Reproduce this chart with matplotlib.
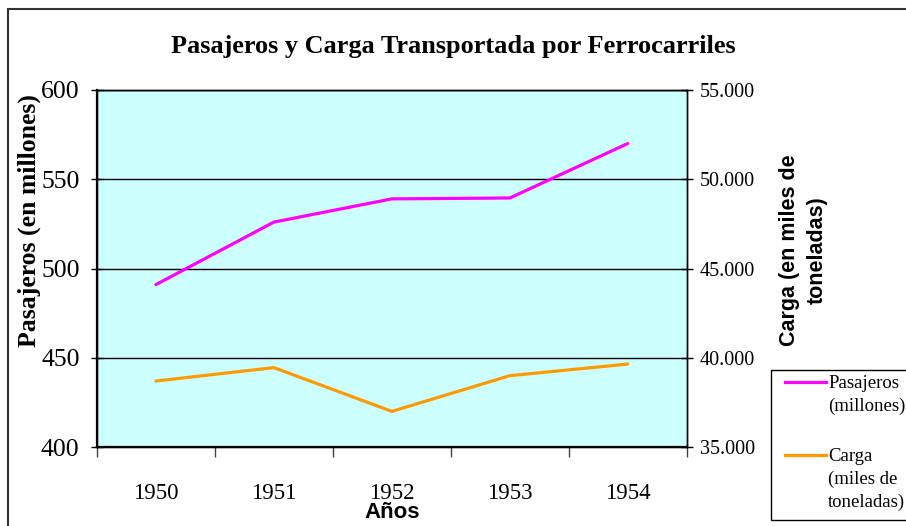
import matplotlib
matplotlib.use("Agg")
import matplotlib.pyplot as plt
from matplotlib.ticker import FuncFormatter, FixedLocator
from matplotlib.patches import Rectangle
from matplotlib.lines import Line2D

years = ["1950", "1951", "1952", "1953", "1954"]
pasajeros = [491, 526, 539, 539.5, 570]          # millones
carga = [38700, 39450, 37000, 39000, 39650]      # miles de toneladas

left_ticks = [400, 450, 500, 550, 600]
right_ticks = [35000, 40000, 45000, 50000, 55000]

serif = "Liberation Serif"
sans = "Liberation Sans"

fig = plt.figure(figsize=(9.06, 5.26), dpi=100)
fig.patch.set_facecolor("white")

# outer chart border
fig.add_artist(Rectangle((0.009, -0.1), 1.1, 1.083, transform=fig.transFigure,
                         fill=False, edgecolor="#333333", linewidth=1.5))

ax = fig.add_axes([0.107, 0.150, 0.651, 0.679])
ax.set_facecolor("#CCFFFF")
ax2 = ax.twinx()

x = list(range(len(years)))
l1, = ax.plot(x, pasajeros, color="#FF00FF", linewidth=2.3, solid_capstyle="round")
l2, = ax2.plot(x, carga, color="#FF9900", linewidth=2.3, solid_capstyle="round")

ax.set_xlim(-0.5, len(years) - 0.5)
ax.set_ylim(400, 600)
ax2.set_ylim(35000, 55000)

ax.set_yticks(left_ticks)
ax2.set_yticks(right_ticks)
ax.yaxis.grid(True, color="black", linewidth=1)
ax.set_axisbelow(True)

# category boundaries as major ticks, labels at the centres
ax.xaxis.set_major_locator(FixedLocator([i - 0.5 for i in range(len(years) + 1)]))
ax.xaxis.set_major_formatter(FuncFormatter(lambda v, p: ""))
ax.set_xticks(x, years, minor=True)
ax.tick_params(axis="x", which="major", direction="out", length=7, width=1, color="#444444")
ax.tick_params(axis="x", which="minor", length=0, pad=26, labelsize=16.5)

ax.tick_params(axis="y", direction="inout", length=9, width=1, pad=8, labelsize=18.5)
ax2.tick_params(axis="y", direction="inout", length=9, width=1, pad=5, labelsize=14.5)
ax2.yaxis.set_major_formatter(FuncFormatter(lambda v, p: f"{int(v):,}".replace(",", ".")))

for lab in ax.get_xticklabels(minor=True) + ax.get_yticklabels() + ax2.get_yticklabels():
    lab.set_family(serif)

for a in (ax, ax2):
    for s in a.spines.values():
        s.set_color("black")
        s.set_linewidth(1)
ax.spines["left"].set_linewidth(1.6)
ax.spines["bottom"].set_linewidth(1.6)

ax.set_ylabel("Pasajeros (en millones)", family=serif, fontweight="bold", fontsize=18.5,
              va="center", ha="center")
ax.yaxis.set_label_coords(-0.114, 0.633)
ax2.set_ylabel("Carga (en miles de\ntoneladas)", family=sans, fontweight="bold", fontsize=15.5,
               rotation=90, linespacing=1.45, va="center", ha="center")
ax2.yaxis.set_label_coords(1.198, 0.552)
ax.set_xlabel("Años", family=sans, fontweight="bold", fontsize=16, va="center")
ax.xaxis.set_label_coords(0.5, -0.184)

fig.suptitle("Pasajeros y Carga Transportada por Ferrocarriles", family=serif,
             fontweight="bold", fontsize=18.9, y=0.911, va="center")

# legend box (cut by the right edge like the original)
fig.add_artist(Rectangle((0.851, 0.011), 0.2, 0.285, transform=fig.transFigure,
                         facecolor="white", edgecolor="black", linewidth=1))
entries = [(l1, "Pasajeros\n(millones)", 0.273), (l2, "Carga\n(miles de\ntoneladas)", 0.135)]
for line, label, ypos in entries:
    fig.add_artist(Line2D([0.866, 0.912], [ypos, ypos], transform=fig.transFigure,
                          color=line.get_color(), linewidth=2.3))
    fig.text(0.914, ypos + 0.014, label, family=serif, fontsize=13.5, va="top", ha="left",
             linespacing=1.45)

fig.savefig("out.png", dpi=100)
